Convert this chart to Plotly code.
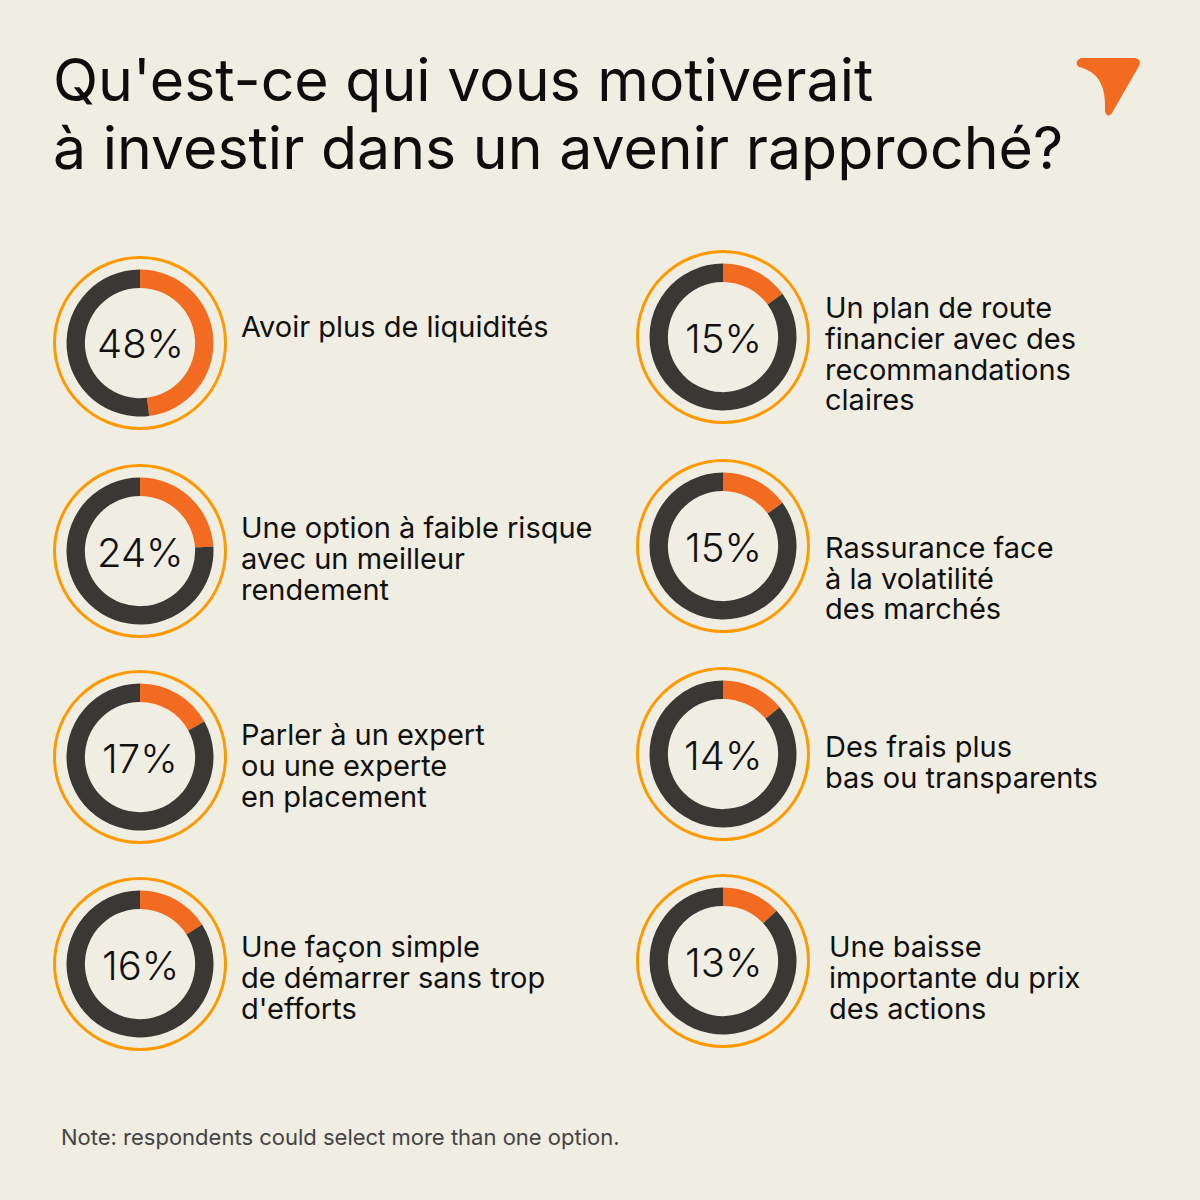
import plotly.graph_objects as go

W, H = 1200, 1200

# ---------------- data ----------------
title_lines = ["Qu'est-ce qui vous motiverait", "à investir dans un avenir rapproché?"]
label_lines = [
    ["Avoir plus de liquidités"],
    ["Une option à faible risque", "avec un meilleur", "rendement"],
    ["Parler à un expert", "ou une experte", "en placement"],
    ["Une façon simple", "de démarrer sans trop", "d'efforts"],
    ["Un plan de route", "financier avec des", "recommandations", "claires"],
    ["Rassurance face", "à la volatilité", "des marchés"],
    ["Des frais plus", "bas ou transparents"],
    ["Une baisse", "importante du prix", "des actions"],
]
values = [48, 24, 17, 16, 15, 15, 14, 13]
note = "Note: respondents could select more than one option."

# ---------------- layout (pixels) ----------------
centers_x = [140, 140, 140, 140, 723, 723, 723, 723]
centers_y = [343, 551, 757, 964, 337, 546, 754, 961]
label_x = [239, 239, 239, 239, 823, 823, 823, 827]
label_base = [337, 537, 744, 956, 317, 557, 756, 956]
LINE_GAP = 31
R_OUT = 73.5
R_RING = 85.5

BG = "#F0EDE3"
ORANGE = "#F26B21"
DARK = "#3A3834"
RING = "#FF9900"
FONT = "Inter"


def px(x):
    return x / W


def py(y):
    return 1 - y / H


fig = go.Figure()
annotations = []
shapes = []

for i, v in enumerate(values):
    cx, cy = centers_x[i], centers_y[i]
    fig.add_trace(go.Pie(
        values=[v, 100 - v],
        hole=0.75,
        sort=False,
        direction="clockwise",
        rotation=0,
        marker=dict(colors=[ORANGE, DARK], line=dict(width=0)),
        textinfo="none",
        hoverinfo="skip",
        showlegend=False,
        domain=dict(x=[px(cx - R_OUT), px(cx + R_OUT)],
                    y=[py(cy + R_OUT), py(cy - R_OUT)]),
    ))
    shapes.append(dict(type="circle", xref="paper", yref="paper",
                       x0=px(cx - R_RING), x1=px(cx + R_RING),
                       y0=py(cy + R_RING), y1=py(cy - R_RING),
                       line=dict(color=RING, width=3)))
    annotations.append(dict(text=f"{v}%", x=px(cx), y=py(cy + 1), xref="paper", yref="paper",
                            xanchor="center", yanchor="middle", showarrow=False,
                            font=dict(family=FONT, size=40, color="#111111", weight=300)))
    for j, line in enumerate(label_lines[i]):
        base = label_base[i] + j * LINE_GAP
        annotations.append(dict(text=line, x=px(label_x[i]), y=py(base - 10), xref="paper", yref="paper",
                                xanchor="left", yanchor="middle", showarrow=False,
                                font=dict(family=FONT, size=29, color="#111111")))

# title
for j, t in enumerate(title_lines):
    base = 100 + j * 67
    annotations.append(dict(text=t, x=px(51), y=py(base - 20), xref="paper", yref="paper",
                            xanchor="left", yanchor="middle", showarrow=False,
                            font=dict(family=FONT, size=59, color="#0d0d0d")))

# note
annotations.append(dict(text=note, x=px(59), y=py(1137), xref="paper", yref="paper",
                        xanchor="left", yanchor="middle", showarrow=False,
                        font=dict(family=FONT, size=22, color="#444444")))

# logo
def P(x, y):
    return f"{px(x):.5f},{py(y):.5f}"

logo = ("M " + P(1081, 58) + " L " + P(1135, 58) + " Q " + P(1142, 59) + " " + P(1139, 66) +
        " L " + P(1112, 113) + " Q " + P(1107, 119) + " " + P(1105, 111) +
        " C " + P(1106, 88) + " " + P(1100, 72) + " " + P(1079, 67) +
        " Q " + P(1073, 62) + " " + P(1081, 58) + " Z")
shapes.append(dict(type="path", xref="paper", yref="paper", path=logo,
                   fillcolor=ORANGE, line=dict(width=0)))

fig.update_layout(
    width=W, height=H,
    margin=dict(l=0, r=0, t=0, b=0),
    paper_bgcolor=BG, plot_bgcolor=BG,
    annotations=annotations, shapes=shapes,
)

fig.write_html("out.html")
